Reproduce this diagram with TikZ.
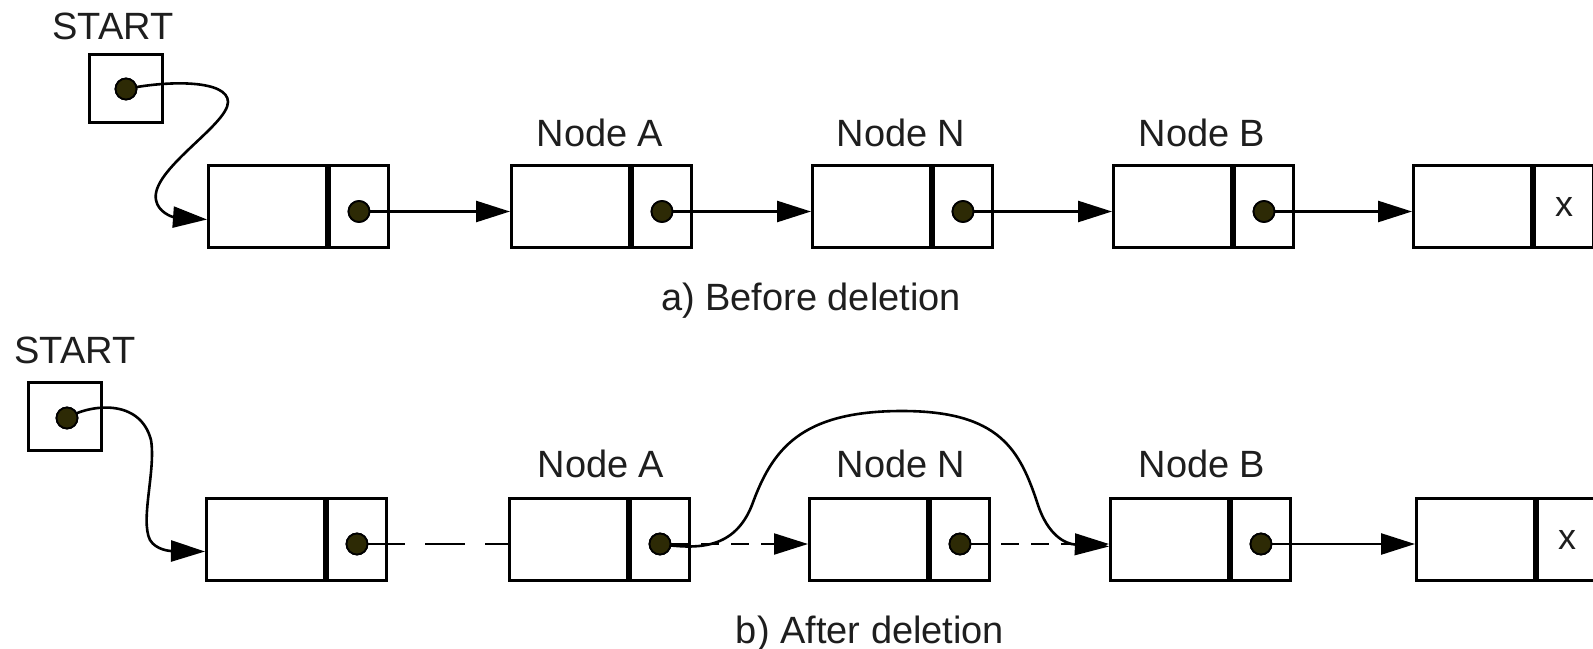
\documentclass[tikz,border=0pt]{standalone}
\usepackage{fontspec}
\setmainfont{Liberation Sans}
\usetikzlibrary{arrows.meta,calc}
\definecolor{dotfill}{RGB}{45,42,5}
\definecolor{ink}{RGB}{30,30,30}

\begin{document}
\begin{tikzpicture}[x=1pt,y=-1pt,
  cell/.style={draw, line width=3pt, inner sep=0pt, anchor=north west, minimum height=82pt},
  datacell/.style={cell, minimum width=118pt},
  ptrcell/.style={cell, minimum width=59pt},
  startbox/.style={draw, line width=3pt, inner sep=0pt, anchor=north west, minimum width=73pt, minimum height=68pt},
  ptrdot/.style={circle, draw, line width=1.8pt, fill=dotfill, minimum size=21pt, inner sep=0pt},
  lbl/.style={font=\fontsize{38pt}{44pt}\selectfont, text=ink, anchor=base, inner sep=0pt},
  nullmark/.style={font=\fontsize{36pt}{40pt}\selectfont, text=ink, inner sep=0pt},
  tip/.style={-{Triangle[length=34pt,width=21pt]}},
  link/.style={line width=2.6pt, tip},
  dashlink/.style={line width=2.2pt, dash pattern=on 18pt off 12pt, tip},
  dashlong/.style={line width=2.2pt, dash pattern=on 40pt off 20pt, dash phase=3pt}
]
\useasboundingbox (0,0) rectangle (1593,648);

% ---------- a) before deletion ----------
\node[lbl] (s1l) at (113,39) {START};
\node[startbox] (s1) at (88,53) {};
\node[ptrdot] (s1o) at (126,89) {};

\foreach \i/\x in {1/207,2/510,3/811,4/1112,5/1412}{
  \node[datacell] (t\i) at (\x,164) {};
  \node[ptrcell] (t\i p) at (t\i.north east) {};
}
\foreach \i in {1,2,3,4}{
  \node[ptrdot] (t\i o) at ($(t\i p.center)+(0,5)$) {};
}
\node[nullmark] (t5x) at (t5p.center) {x};

\node[lbl] (t2l) at (600,146) {Node A};
\node[lbl] (t3l) at (901,146) {Node N};
\node[lbl] (t4l) at (1202,146) {Node B};

\draw[link] (s1o.center) .. controls (170,80) and (228,80) .. (228,102)
  .. controls (228,125) and (150,170) .. (156,200)
  .. controls (158,212) and (172,217) .. ([yshift=-13pt]t1.west);
\draw[link] (t1o) -- (t1o -| t2.west);
\draw[link] (t2o) -- (t2o -| t3.west);
\draw[link] (t3o) -- (t3o -| t4.west);
\draw[link] (t4o) -- (t4o -| t5.west);
\foreach \n in {s1o,t1o,t2o,t3o,t4o}{\node[ptrdot] at (\n) {};}

\node[lbl] (capa) at (811,310) {a) Before deletion};

% ---------- b) after deletion ----------
\node[lbl] (s2l) at (75,363) {START};
\node[startbox] (s2) at (27,381) {};
\node[ptrdot] (s2o) at (67,418) {};

\foreach \i/\x in {1/205,2/508,3/808,4/1109,5/1415}{
  \node[datacell] (b\i) at (\x,497) {};
  \node[ptrcell] (b\i p) at (b\i.north east) {};
}
\foreach \i in {1,2,3,4}{
  \node[ptrdot] (b\i o) at ($(b\i p.center)+(0,4.5)$) {};
}
\node[nullmark] (b5x) at (b5p.center) {x};

\node[lbl] (b2l) at (601,477) {Node A};
\node[lbl] (b3l) at (901,477) {Node N};
\node[lbl] (b4l) at (1202,477) {Node B};

\draw[link] (s2o.center) .. controls (90,404) and (140,398) .. (151,440)
  .. controls (156,470) and (140,520) .. (150,540)
  .. controls (156,550) and (170,551) .. ([yshift=-12pt]b1.west);
\draw[dashlong] (b1o) -- (b1o -| b2.west);
\draw[dashlink] (b2o) -- (b2o -| b3.west);
\draw[dashlink] (b3o) -- (b3o -| b4.west);
\draw[link] (b4o) -- (b4o -| b5.west);
\draw[link] (b2o.center) .. controls (700,550) and (735,548) .. (752,505)
  .. controls (772,450) and (800,411) .. (902,411)
  .. controls (1000,411) and (1020,450) .. (1038,505)
  .. controls (1048,535) and (1065,544) .. ([yshift=-7pt]b4.west);
\foreach \n in {s2o,b1o,b2o,b3o,b4o}{\node[ptrdot] at (\n) {};}

\node[lbl] (capb) at (870,643) {b) After deletion};
\end{tikzpicture}
\end{document}
